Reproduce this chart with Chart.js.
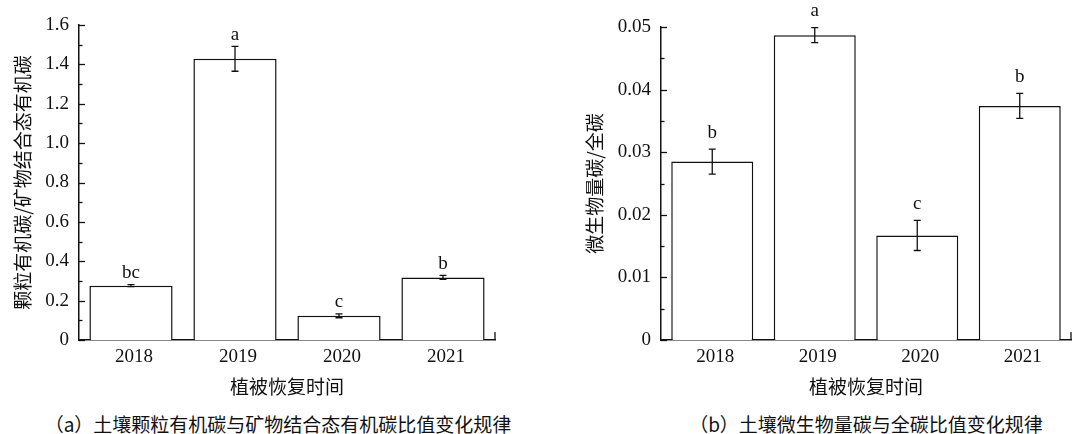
<!DOCTYPE html>
<html>
<head>
<meta charset="utf-8">
<script src="https://cdn.jsdelivr.net/npm/chart.js@4"></script>
<style>
  body { margin: 0; background: #fff; width: 1072px; height: 434px; position: relative; overflow: hidden; }
  .panel { position: absolute; top: 0; }
  .caption {
    position: absolute; top: 410px; line-height: 20px;
    font: 19px "Noto Sans CJK SC", sans-serif; color: #111;
    white-space: nowrap; transform: translateX(-50%);
  }
</style>
</head>
<body>
<canvas id="pocChart" class="panel" style="left:0" width="540" height="400"></canvas>
<canvas id="mbcChart" class="panel" style="left:540px" width="532" height="400"></canvas>
<div class="caption" style="left:278px">（a）土壤颗粒有机碳与矿物结合态有机碳比值变化规律</div>
<div class="caption" style="left:866px">（b）土壤微生物量碳与全碳比值变化规律</div>

<script>
const years = ['2018', '2019', '2020', '2021'];

// (a) POC / MAOC
const pocRatio = [0.276, 1.428, 0.123, 0.318];
const pocErr = [0.005, 0.063, 0.010, 0.010];
const pocLetters = ['bc', 'a', 'c', 'b'];
const pocTicks = [0, 0.2, 0.4, 0.6, 0.8, 1.0, 1.2, 1.4, 1.6];
const pocTickLabels = ['0', '0.2', '0.4', '0.6', '0.8', '1.0', '1.2', '1.4', '1.6'];

// (b) MBC / TC
const mbcRatio = [0.0285, 0.0487, 0.0167, 0.0374];
const mbcErr = [0.0020, 0.0012, 0.0024, 0.0020];
const mbcLetters = ['b', 'a', 'c', 'b'];
const mbcTicks = [0, 0.01, 0.02, 0.03, 0.04, 0.05];
const mbcTickLabels = ['0', '0.01', '0.02', '0.03', '0.04', '0.05'];

const ink = '#111';
const serif = '"Liberation Serif", "Times New Roman", Times, serif';
const cjk = '"Noto Sans CJK SC", sans-serif';

// error bars + significance letters above each bar
const errorBars = {
  id: 'errorBars',
  afterDatasetsDraw(chart, args, opts) {
    const {ctx} = chart;
    const yScale = chart.scales.y;
    const values = chart.data.datasets[0].data;
    ctx.save();
    ctx.strokeStyle = ink;
    ctx.lineWidth = 1.3;
    ctx.fillStyle = ink;
    ctx.font = '19px ' + serif;
    ctx.textAlign = 'center';
    ctx.textBaseline = 'bottom';
    chart.getDatasetMeta(0).data.forEach((bar, i) => {
      const x = bar.x;
      const hi = yScale.getPixelForValue(values[i] + opts.errors[i]);
      const lo = yScale.getPixelForValue(values[i] - opts.errors[i]);
      ctx.beginPath();
      ctx.moveTo(x, hi); ctx.lineTo(x, lo);
      ctx.moveTo(x - 3.5, hi); ctx.lineTo(x + 3.5, hi);
      ctx.moveTo(x - 3.5, lo); ctx.lineTo(x + 3.5, lo);
      ctx.stroke();
      ctx.fillText(opts.letters[i], x, hi - opts.gap);
    });
    ctx.restore();
  }
};

// inward major/minor ticks on the y axis, closing tick at the end of the x axis
const inwardTicks = {
  id: 'inwardTicks',
  afterDraw(chart, args, opts) {
    const {ctx, chartArea} = chart;
    const yScale = chart.scales.y;
    const half = opts.step / 2;
    ctx.save();
    ctx.strokeStyle = ink;
    ctx.lineWidth = 1.3;
    for (let i = 0; yScale.min + i * half <= yScale.max + 1e-9; i++) {
      const py = Math.round(yScale.getPixelForValue(yScale.min + i * half)) + 0.5;
      const len = i % 2 === 0 ? opts.major : opts.minor;
      ctx.beginPath();
      ctx.moveTo(chartArea.left, py);
      ctx.lineTo(chartArea.left + len, py);
      ctx.stroke();
    }
    ctx.beginPath();
    ctx.moveTo(chartArea.right, chartArea.bottom);
    ctx.lineTo(chartArea.right, chartArea.bottom - opts.major - 2);
    ctx.stroke();
    ctx.restore();
  }
};

function makeChart(id, cfg) {
  return new Chart(document.getElementById(id), {
    type: 'bar',
    data: {
      labels: years,
      datasets: [{
        data: cfg.values,
        backgroundColor: '#fff',
        borderColor: ink,
        borderWidth: 1.5,
        categoryPercentage: 1,
        barPercentage: 0.8
      }]
    },
    plugins: [errorBars, inwardTicks],
    options: {
      responsive: false,
      animation: false,
      devicePixelRatio: 1,
      layout: { padding: { top: cfg.top, right: cfg.right, bottom: 0, left: 0 } },
      plugins: {
        legend: { display: false },
        tooltip: { enabled: false },
        errorBars: { errors: cfg.errors, letters: cfg.letters, gap: cfg.gap },
        inwardTicks: { step: cfg.ticks[1], major: 6, minor: 3.5 }
      },
      scales: {
        x: {
          grid: { display: false, drawTicks: false },
          border: { color: ink, width: 1.5 },
          ticks: { color: ink, font: { family: serif, size: 19 }, padding: 6, labelOffset: 3, maxRotation: 0 },
          title: { display: true, text: '植被恢复时间', color: ink, font: { family: cjk, size: 19 }, padding: { top: 0, bottom: 2 } },
          afterFit: s => { s.height = 60; }
        },
        y: {
          min: cfg.ticks[0],
          max: cfg.ticks[cfg.ticks.length - 1],
          grid: { display: false, drawTicks: false },
          border: { color: ink, width: 1.5 },
          afterBuildTicks: s => { s.ticks = cfg.ticks.map(v => ({ value: v })); },
          ticks: {
            color: ink,
            font: { family: serif, size: 19 },
            padding: 10,
            callback: (v, i) => cfg.tickLabels[i]
          },
          title: { display: true, text: cfg.yTitle, color: ink, font: { family: cjk, size: 19 }, padding: { top: cfg.titlePad, bottom: 0 } },
          afterFit: s => { s.width = cfg.axisWidth; }
        }
      }
    }
  });
}

function drawAll() {
  makeChart('pocChart', {
    values: pocRatio, errors: pocErr, letters: pocLetters,
    ticks: pocTicks, tickLabels: pocTickLabels,
    yTitle: '颗粒有机碳/矿物结合态有机碳',
    top: 25, right: 45, axisWidth: 79, titlePad: 11, gap: 2
  });

  makeChart('mbcChart', {
    values: mbcRatio, errors: mbcErr, letters: mbcLetters,
    ticks: mbcTicks, tickLabels: mbcTickLabels,
    yTitle: '微生物量碳/全碳',
    top: 27, right: 1, axisWidth: 121, titlePad: 43, gap: 7
  });
}

// make sure the serif face is ready before the canvases measure text
Promise.all([
  document.fonts.load('19px "Liberation Serif"'),
  document.fonts.load('19px "Noto Sans CJK SC"', '植被')
]).catch(() => {}).then(drawAll);
</script>
</body>
</html>
